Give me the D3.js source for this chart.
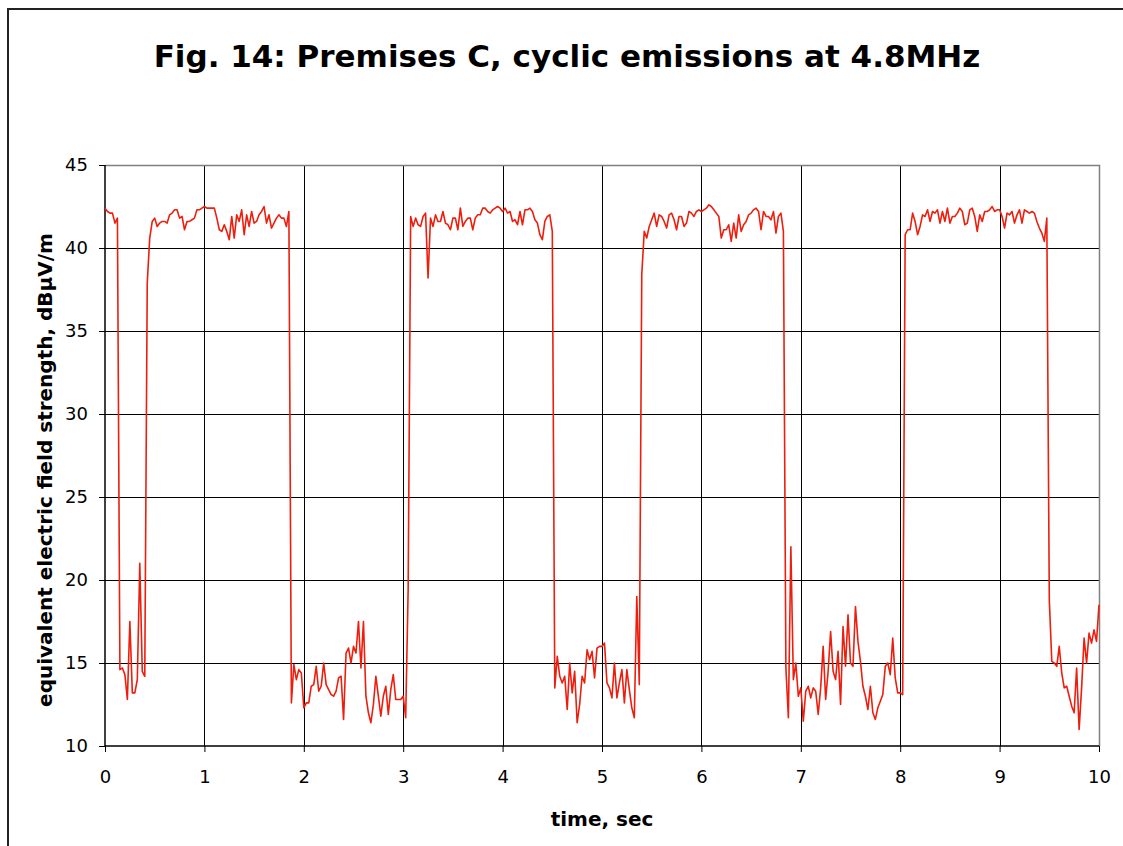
<!DOCTYPE html>
<html>
<head>
<meta charset="utf-8">
<script src="https://cdn.jsdelivr.net/npm/d3@7"></script>
<style>
  html, body { margin: 0; padding: 0; background: #fff; }
  svg { display: block; font-family: "DejaVu Sans", Verdana, sans-serif; }
</style>
</head>
<body>
<svg id="chart" width="1123" height="846"></svg>
<script>
// Sampling interval of the field-strength record, seconds
const sampleStep = 0.025;

// Equivalent electric field strength, dBµV/m, one value per sample (0 .. 10 s)
const fieldStrength = [
  // 0.0 – 0.975 s
  42.4, 42.2, 42.1, 42.1, 41.5, 41.8, 14.6, 14.7, 14.3, 12.8,
  17.5, 13.2, 13.2, 14.0, 21.0, 14.5, 14.2, 37.9, 40.6, 41.6,
  41.8, 41.3, 41.5, 41.6, 41.6, 41.5, 42.0, 42.1, 42.3, 42.3,
  41.8, 41.9, 41.1, 41.6, 41.6, 41.7, 41.8, 42.3, 42.3, 42.4,
  // 1.0 – 1.975 s
  42.5, 42.4, 42.4, 42.4, 42.4, 41.8, 41.1, 41.0, 41.4, 41.0,
  40.5, 41.9, 40.6, 42.0, 41.6, 42.3, 40.8, 42.0, 41.3, 42.2,
  41.5, 41.6, 42.0, 42.2, 42.5, 41.5, 42.0, 41.2, 41.5, 41.8,
  42.0, 41.8, 41.8, 41.3, 42.2, 12.6, 14.9, 14.0, 14.6, 14.4,
  // 2.0 – 2.975 s
  12.3, 12.6, 12.6, 13.6, 13.7, 14.8, 13.3, 13.6, 15.0, 13.7,
  13.4, 13.1, 13.0, 13.3, 14.1, 14.2, 11.6, 15.6, 15.9, 15.0,
  16.0, 15.6, 17.5, 14.7, 17.5, 13.0, 12.0, 11.4, 12.5, 14.2,
  13.0, 11.8, 13.0, 13.6, 11.9, 13.4, 14.3, 12.8, 12.8, 12.8,
  // 3.0 – 3.975 s
  13.0, 11.7, 19.5, 41.9, 41.3, 41.8, 41.4, 41.3, 41.9, 42.1,
  38.2, 41.8, 41.3, 42.0, 41.6, 41.6, 42.2, 41.5, 41.4, 41.1,
  41.8, 41.8, 41.1, 42.4, 41.3, 41.6, 41.8, 41.8, 41.1, 41.8,
  42.0, 42.0, 42.4, 42.4, 42.2, 42.1, 42.3, 42.4, 42.5, 42.4,
  // 4.0 – 4.975 s
  42.2, 42.4, 42.1, 42.2, 41.6, 41.7, 41.4, 42.2, 41.4, 42.3,
  42.3, 42.4, 42.2, 41.7, 41.5, 40.8, 40.5, 41.6, 41.9, 42.0,
  41.0, 13.5, 15.4, 14.2, 13.8, 14.2, 12.2, 15.0, 13.2, 14.5,
  11.4, 12.5, 14.2, 13.8, 15.8, 15.2, 15.7, 14.1, 15.9, 16.0,
  // 5.0 – 5.975 s
  16.0, 16.2, 13.8, 13.5, 12.9, 15.0, 12.9, 13.8, 14.6, 12.6,
  14.6, 13.4, 12.3, 11.7, 19.0, 13.7, 38.4, 41.0, 40.6, 41.3,
  41.7, 42.1, 41.3, 42.0, 41.9, 41.6, 41.2, 42.0, 42.1, 41.7,
  41.1, 41.9, 41.9, 41.3, 41.5, 42.2, 42.1, 41.9, 42.2, 42.3,
  // 6.0 – 6.975 s
  42.2, 42.3, 42.4, 42.6, 42.5, 42.3, 42.1, 41.9, 40.6, 41.1,
  41.1, 41.4, 40.4, 41.5, 40.6, 42.0, 41.0, 41.4, 41.6, 42.0,
  42.1, 42.3, 42.4, 42.2, 41.1, 42.2, 41.9, 41.9, 41.7, 42.2,
  40.9, 41.9, 42.1, 41.0, 14.7, 11.7, 22.0, 14.0, 15.0, 13.0,
  // 7.0 – 7.975 s
  13.5, 11.5, 13.3, 13.6, 12.9, 13.5, 13.3, 11.9, 13.5, 16.0,
  12.8, 14.5, 16.9, 14.5, 14.0, 15.7, 12.5, 17.2, 14.8, 17.9,
  15.0, 14.8, 18.4, 16.3, 15.1, 13.6, 13.0, 12.2, 13.6, 12.0,
  11.6, 12.3, 12.7, 13.1, 14.8, 15.0, 14.3, 16.5, 14.1, 13.2,
  // 8.0 – 8.975 s
  13.2, 13.1, 40.8, 41.1, 41.1, 42.1, 41.6, 40.8, 41.3, 42.0,
  41.9, 42.3, 41.6, 42.2, 42.1, 42.3, 41.5, 42.2, 41.6, 42.4,
  41.5, 41.9, 41.9, 42.1, 42.4, 42.2, 41.4, 41.5, 42.3, 42.4,
  41.9, 41.0, 42.0, 41.6, 42.2, 42.2, 42.3, 42.5, 42.2, 42.3,
  // 9.0 – 10.0 s
  42.3, 41.9, 41.2, 42.1, 42.0, 42.2, 41.5, 42.0, 42.3, 41.5,
  42.3, 42.2, 42.1, 42.2, 42.1, 41.6, 41.2, 40.9, 40.4, 41.8,
  18.8, 15.1, 15.0, 14.8, 16.0, 14.4, 13.5, 13.6, 13.0, 12.4,
  12.0, 14.7, 11.0, 13.5, 16.5, 15.0, 16.8, 16.2, 17.0, 16.3,
  18.5
];

// Axis ticks
const timeTicks = [0, 1, 2, 3, 4, 5, 6, 7, 8, 9, 10];
const levelTicks = [10, 15, 20, 25, 30, 35, 40, 45];

const titleText = "Fig. 14: Premises C, cyclic emissions at 4.8MHz";
const xTitleText = "time, sec";
const yTitleText = "equivalent electric field strength, dBµV/m";

const svg = d3.select("#chart");

// Outer frame of the figure (runs off the right and bottom of the page)
svg.append("rect")
  .attr("x", 8).attr("y", 9)
  .attr("width", 1200).attr("height", 900)
  .attr("fill", "none")
  .attr("stroke", "#222")
  .attr("stroke-width", 2);

const plot = { left: 105, right: 1099, top: 165, bottom: 746 };

const x = d3.scaleLinear().domain([0, 10]).range([plot.left, plot.right]);
const y = d3.scaleLinear().domain([10, 45]).range([plot.bottom, plot.top]);

const series = fieldStrength.map((v, i) => ({ t: i * sampleStep, v }));

// Title
svg.append("text")
  .attr("x", 567).attr("y", 67)
  .attr("text-anchor", "middle")
  .attr("font-size", 31)
  .attr("font-weight", "bold")
  .attr("fill", "#000")
  .text(titleText);

// Gridlines
const grid = svg.append("g").attr("class", "grid");
grid.selectAll("line.h")
  .data(levelTicks.filter(d => d !== 10 && d !== 45))
  .join("line")
  .attr("x1", plot.left).attr("x2", plot.right)
  .attr("y1", d => Math.round(y(d)) + 0.5).attr("y2", d => Math.round(y(d)) + 0.5)
  .attr("stroke", "#000").attr("stroke-width", 1);
grid.selectAll("line.v")
  .data(timeTicks.filter(d => d !== 0 && d !== 10))
  .join("line")
  .attr("y1", plot.top).attr("y2", plot.bottom)
  .attr("x1", d => Math.round(x(d)) + 0.5).attr("x2", d => Math.round(x(d)) + 0.5)
  .attr("stroke", "#000").attr("stroke-width", 1);

// Plot-area border (top and right in grey)
svg.append("path")
  .attr("d", `M${plot.left},${plot.top + 0.5}H${plot.right + 0.5}V${plot.bottom}`)
  .attr("fill", "none")
  .attr("stroke", "#808080")
  .attr("stroke-width", 1.5);

// Axes
const xAxis = d3.axisBottom(x).tickValues(timeTicks).tickSize(6).tickPadding(18).tickFormat(d3.format("d"));
const yAxis = d3.axisLeft(y).tickValues(levelTicks).tickSize(6).tickPadding(11).tickFormat(d3.format("d"));

const gx = svg.append("g")
  .attr("transform", `translate(0,${plot.bottom})`)
  .call(xAxis);
const gy = svg.append("g")
  .attr("transform", `translate(${plot.left},0)`)
  .call(yAxis);

[gx, gy].forEach(g => {
  g.select(".domain").attr("stroke", "#000").attr("stroke-width", 1.5);
  g.selectAll(".tick line").attr("stroke", "#000");
  g.selectAll(".tick text")
    .attr("font-family", "'DejaVu Sans', Verdana, sans-serif")
    .attr("font-size", 18)
    .attr("fill", "#000");
});
gx.select(".domain").attr("d", `M${plot.left},0H${plot.right}`);
gy.select(".domain").attr("d", `M0,${plot.bottom}V${plot.top}`);

// Data line
const line = d3.line()
  .x(d => x(d.t))
  .y(d => y(d.v));

svg.append("path")
  .datum(series)
  .attr("d", line)
  .attr("fill", "none")
  .attr("stroke", "#ee1e0e")
  .attr("stroke-width", 1.6)
  .attr("stroke-linejoin", "round");

// Axis titles
svg.append("text")
  .attr("x", 602).attr("y", 826)
  .attr("text-anchor", "middle")
  .attr("font-size", 20)
  .attr("font-weight", "bold")
  .text(xTitleText);

svg.append("text")
  .attr("transform", `translate(52,470) rotate(-90)`)
  .attr("text-anchor", "middle")
  .attr("font-size", 20)
  .attr("font-weight", "bold")
  .text(yTitleText);
</script>
</body>
</html>
